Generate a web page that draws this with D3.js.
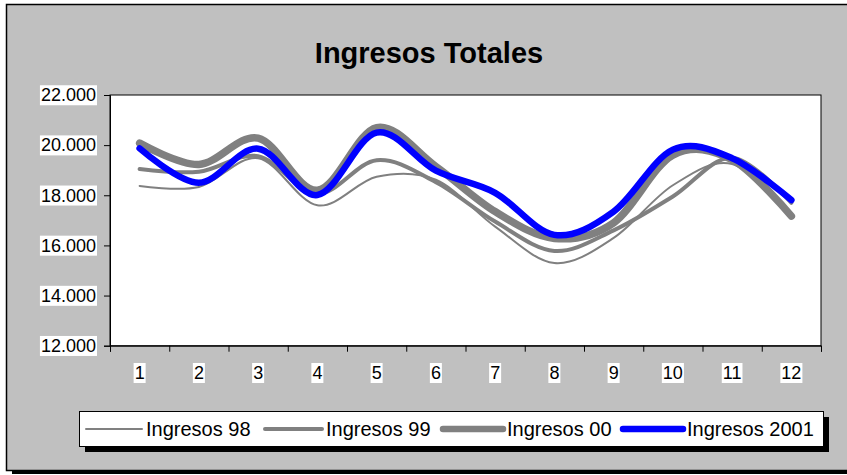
<!DOCTYPE html>
<html>
<head>
<meta charset="utf-8">
<script src="https://cdn.jsdelivr.net/npm/d3@7/dist/d3.min.js"></script>
<style>
  html, body { margin: 0; padding: 0; background: #ffffff; }
  svg { display: block; }
  text { font-family: "Liberation Sans", Arial, sans-serif; fill: #000; }
</style>
</head>
<body>
<svg id="chart" width="847" height="475"></svg>
<script>
// ---- data ----
const months = ["1","2","3","4","5","6","7","8","9","10","11","12"];
const yTicks = [12000, 14000, 16000, 18000, 20000, 22000];
const seriesNames = ["Ingresos 98", "Ingresos 99", "Ingresos 00", "Ingresos 2001"];
const ingresos98   = [18370, 18330, 19480, 17600, 18740, 18620, 16750, 15300, 16300, 18400, 19250, 17200];
const ingresos99   = [19050, 18940, 19560, 18050, 19400, 18520, 16950, 15780, 16600, 17950, 19500, 17700];
const ingresos00   = [20080, 19230, 20280, 18200, 20700, 19150, 17350, 16280, 16900, 19600, 19420, 17170];
const ingresos2001 = [19870, 18500, 19860, 18010, 20500, 18980, 18100, 16420, 17350, 19820, 19480, 17810];

const seriesValues = [ingresos98, ingresos99, ingresos00, ingresos2001];
const styles = [
  {color: "#808080", width: 2},
  {color: "#808080", width: 4},
  {color: "#808080", width: 7.5},
  {color: "#0000ff", width: 6.5}
];

const svg = d3.select("#chart");

// outer frame
svg.append("rect").attr("x", 12).attr("y", 10).attr("width", 850).attr("height", 464).attr("fill", "#000");
svg.append("rect").attr("x", 6.5).attr("y", 4.5).attr("width", 850).attr("height", 466)
   .attr("fill", "#c0c0c0").attr("stroke", "#000").attr("stroke-width", 1.5);

// title
svg.append("text").attr("x", 429).attr("y", 63).attr("text-anchor", "middle")
   .style("font-weight", "bold").style("font-size", "29px").text("Ingresos Totales");

// scales
const pLeft = 110, pRight = 821, pTop = 95, pBottom = 345.7;
const x = d3.scaleBand().domain(months).range([pLeft, pRight]);
const xLin = d3.scaleLinear().domain([0, months.length]).range([pLeft, pRight]);
const y = d3.scaleLinear().domain([12000, 22000]).range([pBottom, pTop]);

// plot area
svg.append("rect").attr("x", pLeft).attr("y", pTop).attr("width", pRight - pLeft).attr("height", pBottom - pTop)
   .attr("fill", "#fff").attr("stroke", "#000").attr("stroke-width", 1);

const es = d3.formatLocale({decimal: ",", thousands: ".", grouping: [3], currency: ["", " €"]});
const fmt = es.format(",");

// y axis
const gy = svg.append("g").attr("transform", `translate(${pLeft},0)`)
  .call(d3.axisLeft(y).tickValues(yTicks).tickSize(6).tickPadding(8).tickFormat(fmt));
gy.selectAll("path.domain").attr("stroke", "#000");
gy.selectAll(".tick line").attr("stroke", "#000");
gy.selectAll(".tick text").style("font-size", "18px").attr("font-family", null).attr("fill", "#000");

// x axis ticks at boundaries
const gx = svg.append("g").attr("transform", `translate(0,${pBottom})`)
  .call(d3.axisBottom(xLin).tickValues(d3.range(0, months.length + 1)).tickSize(6).tickFormat(""));
gx.selectAll("path.domain").attr("stroke", "#000");
gx.selectAll(".tick line").attr("stroke", "#000");

// x labels
const gxl = svg.append("g").attr("transform", `translate(0,${pBottom})`)
  .call(d3.axisBottom(x).tickSize(0).tickPadding(0));
gxl.select("path.domain").remove();
gxl.selectAll(".tick text").attr("y", 27).attr("dy", "0.35em")
   .style("font-size", "18px").attr("font-family", null).attr("fill", "#000");

// white boxes behind tick labels
function boxes(g) {
  g.selectAll(".tick").each(function() {
    const t = d3.select(this).select("text");
    if (t.empty()) return;
    const b = t.node().getBBox();
    d3.select(this).insert("rect", "text")
      .attr("x", b.x - 1).attr("y", b.y).attr("width", b.width + 2).attr("height", b.height)
      .attr("fill", "#fff");
  });
}
boxes(gy); boxes(gxl);

// lines
const line = d3.line()
  .x((d, i) => x(months[i]) + x.bandwidth() / 2)
  .y(d => y(d))
  .curve(d3.curveCatmullRom.alpha(0));

seriesValues.forEach((vals, k) => {
  svg.append("path").datum(vals).attr("d", line)
    .attr("fill", "none").attr("stroke", styles[k].color).attr("stroke-width", styles[k].width)
    .attr("stroke-linecap", "round").attr("stroke-linejoin", "round");
});

// legend
const lg = svg.append("g");
lg.append("rect").attr("x", 85).attr("y", 417).attr("width", 744).attr("height", 35).attr("fill", "#000");
lg.append("rect").attr("x", 79.5).attr("y", 411.5).attr("width", 744).attr("height", 35)
  .attr("fill", "#fff").attr("stroke", "#000").attr("stroke-width", 1);
const itemX = [86, 265, 443, 623];
const lineLen = [56, 57, 60, 60];
seriesNames.forEach((name, k) => {
  const ly = 429;
  lg.append("line").attr("x1", itemX[k]).attr("x2", itemX[k] + lineLen[k]).attr("y1", ly).attr("y2", ly)
    .attr("stroke", styles[k].color).attr("stroke-width", Math.min(styles[k].width, 6.5))
    .attr("stroke-linecap", "round");
  lg.append("text").attr("x", itemX[k] + lineLen[k] + 4).attr("y", ly).attr("dy", "0.35em")
    .style("font-size", "20px").text(name);
});
</script>
</body>
</html>
